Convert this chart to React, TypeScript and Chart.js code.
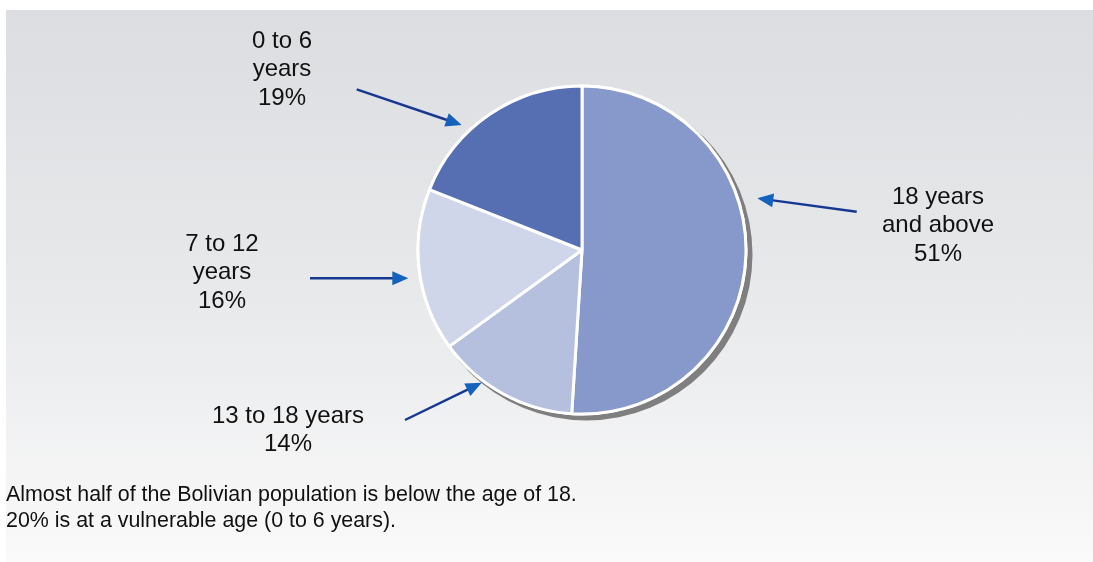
import React, { useEffect, useRef } from "react";
import { Chart, registerables } from "chart.js";

Chart.register(...registerables);

const categories = ["18 years and above", "13 to 18 years", "7 to 12 years", "0 to 6 years"];
const shares = [51, 14, 16, 19];
const sliceColors = ["#8799CA", "#B5C0DF", "#D0D6EA", "#566FB3"];
const labelLines = [
  ["18 years", "and above", "51%"],
  ["13 to 18 years", "14%"],
  ["7 to 12", "years", "16%"],
  ["0 to 6", "years", "19%"],
];
const captionLines = [
  "Almost half of the Bolivian population is below the age of 18.",
  "20% is at a vulnerable age (0 to 6 years).",
];

// layout (container coordinates)
const W = 1087;
const H = 552;
const labelPos = [
  { x: 932, y: 194 },
  { x: 282, y: 412.5 },
  { x: 216, y: 241 },
  { x: 276, y: 38 },
];
const arrows = [
  { tx: 850.7, ty: 201.7, hx: 751.3, hy: 188.3 },
  { tx: 399, ty: 410, hx: 475.7, hy: 372.7 },
  { tx: 304, ty: 268.3, hx: 402.3, hy: 268.3 },
  { tx: 350.7, ty: 79.3, hx: 455.7, hy: 115 },
];

const FONT = "'Liberation Sans', Arial, Helvetica, sans-serif";

const overlayPlugin = {
  id: "overlay",
  beforeDatasetsDraw(chart: any) {
    const arc = chart.getDatasetMeta(0).data[0];
    if (!arc) return;
    const ctx = chart.ctx;
    ctx.save();
    ctx.beginPath();
    ctx.arc(arc.x + 4.5, arc.y + 4.5, arc.outerRadius + 2, 0, Math.PI * 2);
    ctx.fillStyle = "#7f7f7f";
    ctx.fill();
    ctx.beginPath();
    ctx.arc(arc.x, arc.y, arc.outerRadius + 1.5, 0, Math.PI * 2);
    ctx.fillStyle = "#ffffff";
    ctx.fill();
    ctx.restore();
  },
  afterDraw(chart: any) {
    const ctx = chart.ctx;
    ctx.save();
    ctx.fillStyle = "#111111";
    ctx.font = `24px ${FONT}`;
    ctx.textAlign = "center";
    ctx.textBaseline = "alphabetic";
    labelLines.forEach((lines, i) => {
      lines.forEach((t, j) => {
        ctx.fillText(t, labelPos[i].x, labelPos[i].y + j * 28.3);
      });
    });
    arrows.forEach((a) => {
      const ang = Math.atan2(a.hy - a.ty, a.hx - a.tx);
      const len = 16;
      const half = 7;
      const bx = a.hx - Math.cos(ang) * len;
      const by = a.hy - Math.sin(ang) * len;
      ctx.beginPath();
      ctx.moveTo(a.tx, a.ty);
      ctx.lineTo(bx + Math.cos(ang) * 2, by + Math.sin(ang) * 2);
      ctx.strokeStyle = "#173891";
      ctx.lineWidth = 2.4;
      ctx.stroke();
      ctx.beginPath();
      ctx.moveTo(a.hx, a.hy);
      ctx.lineTo(bx + Math.sin(ang) * half, by - Math.cos(ang) * half);
      ctx.lineTo(bx - Math.sin(ang) * half, by + Math.cos(ang) * half);
      ctx.closePath();
      ctx.fillStyle = "#1562BC";
      ctx.fill();
    });
    ctx.restore();
  },
};

export default function App() {
  const ref = useRef<HTMLCanvasElement | null>(null);
  useEffect(() => {
    document.body.style.margin = "0";
    const c = ref.current;
    if (!c) return;
    const chart = new Chart(c, {
      type: "pie",
      data: {
        labels: categories,
        datasets: [
          {
            data: shares,
            backgroundColor: sliceColors,
            borderColor: "#ffffff",
            borderWidth: 3,
          },
        ],
      },
      options: {
        animation: false,
        responsive: false,
        radius: 164,
        layout: { padding: { left: 65, right: 0, top: 0, bottom: 72 } },
        plugins: {
          legend: { display: false },
          tooltip: { enabled: false },
          title: { display: false },
        },
      } as any,
      plugins: [overlayPlugin],
    });
    return () => chart.destroy();
  }, []);
  return (
    <div
      style={{
        position: "absolute",
        left: 6,
        top: 10,
        width: W,
        height: H,
        background: "linear-gradient(to bottom, #dcdde0 0%, #e9eaec 55%, #fafafa 100%)",
      }}
    >
      <canvas ref={ref} width={W} height={H} style={{ position: "absolute", left: 0, top: 0, width: W, height: H }} />
      <div
        style={{
          position: "absolute",
          left: 0,
          top: 471,
          fontFamily: FONT,
          fontSize: 21.4,
          lineHeight: "26px",
          color: "#111111",
          whiteSpace: "pre",
        }}
      >
        {captionLines.map((l, i) => (
          <div key={i}>{l}</div>
        ))}
      </div>
    </div>
  );
}
